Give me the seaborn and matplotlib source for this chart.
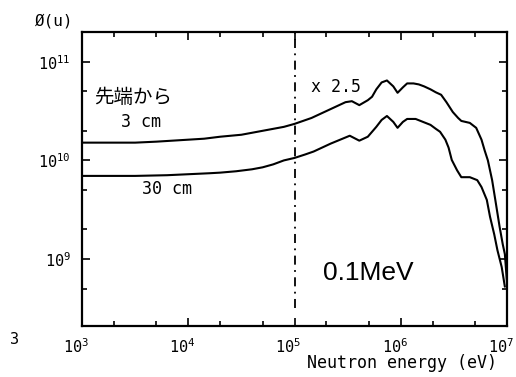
import numpy as np
import pandas as pd
import matplotlib
matplotlib.use("Agg")
import matplotlib.pyplot as plt
import matplotlib.ticker as mticker
import matplotlib.transforms as mtrans
import seaborn as sns

# ---- data (log10 values) ----
log_e_3cm = [3.00, 3.30, 3.50, 3.70, 3.85, 4.00, 4.15, 4.30, 4.40, 4.50, 4.60, 4.70,
             4.80, 4.90, 5.00, 5.08, 5.16, 5.24, 5.32, 5.40, 5.48, 5.54, 5.61, 5.69,
             5.73, 5.77, 5.82, 5.87, 5.93, 5.97, 6.02, 6.06, 6.12, 6.17, 6.22, 6.28,
             6.33, 6.38, 6.43, 6.49, 6.54, 6.57, 6.65, 6.71, 6.76, 6.79, 6.82, 6.86,
             6.89, 6.93, 6.96, 6.98, 7.00]
log_phi_3cm = [10.18, 10.18, 10.18, 10.19, 10.20, 10.21, 10.22, 10.24, 10.25, 10.26,
               10.28, 10.30, 10.32, 10.34, 10.37, 10.40, 10.43, 10.47, 10.51, 10.55,
               10.59, 10.60, 10.56, 10.61, 10.645, 10.72, 10.79, 10.81, 10.75, 10.685,
               10.74, 10.78, 10.78, 10.77, 10.75, 10.72, 10.69, 10.665, 10.59, 10.49,
               10.43, 10.40, 10.38, 10.33, 10.21, 10.10, 10.00, 9.80, 9.60, 9.33,
               9.15, 9.05, 8.76]

log_e_30cm = [3.00, 3.50, 3.80, 4.00, 4.20, 4.30, 4.45, 4.60, 4.70, 4.80, 4.90, 5.00,
              5.10, 5.18, 5.26, 5.34, 5.43, 5.52, 5.61, 5.69, 5.73, 5.77, 5.82, 5.87,
              5.93, 5.97, 6.02, 6.06, 6.14, 6.21, 6.28, 6.33, 6.37, 6.42, 6.45, 6.48,
              6.53, 6.57, 6.65, 6.72, 6.76, 6.81, 6.84, 6.88, 6.91, 6.95, 6.98]
log_phi_30cm = [9.843, 9.843, 9.85, 9.86, 9.87, 9.876, 9.89, 9.91, 9.93, 9.96, 10.00,
                10.025, 10.06, 10.09, 10.13, 10.17, 10.21, 10.25, 10.20, 10.24, 10.29,
                10.34, 10.41, 10.45, 10.39, 10.33, 10.39, 10.42, 10.42, 10.39, 10.36,
                10.32, 10.29, 10.21, 10.13, 10.005, 9.90, 9.83, 9.83, 9.80, 9.73,
                9.60, 9.43, 9.25, 9.09, 8.92, 8.72]

marker_energy = 1e5
x_limits = [1e3, 1e7]
y_limits = [2.1e8, 2.0e11]

# ---- style ----
sns.set_style("ticks")
plt.rcParams['font.family'] = ['DejaVu Sans Mono', 'Noto Sans CJK JP']
plt.rcParams['mathtext.default'] = 'regular'
plt.rcParams['text.color'] = 'black'
plt.rcParams['xtick.color'] = 'black'
plt.rcParams['ytick.color'] = 'black'
plt.rcParams['xtick.labelcolor'] = 'black'
plt.rcParams['ytick.labelcolor'] = 'black'

fig = plt.figure(figsize=(5.16, 3.77), dpi=100)
ax = fig.add_axes([82/516, 51/377, 425/516, 294/377])

df3 = pd.DataFrame({"E": 10**np.array(log_e_3cm), "phi": 10**np.array(log_phi_3cm)})
df30 = pd.DataFrame({"E": 10**np.array(log_e_30cm), "phi": 10**np.array(log_phi_30cm)})

sns.lineplot(data=df3, x="E", y="phi", ax=ax, color="black", lw=1.5,
             estimator=None, sort=False)
sns.lineplot(data=df30, x="E", y="phi", ax=ax, color="black", lw=1.5,
             estimator=None, sort=False)

ax.plot([marker_energy, marker_energy], [3.2e8, 2.0e11], color="black", lw=1.3,
        linestyle=(0, (5, 3, 1, 3)))

ax.set_xscale("log")
ax.set_yscale("log")
ax.set_xlim(*x_limits)
ax.set_ylim(*y_limits)
ax.set_xlabel("")
ax.set_ylabel("")

for a in (ax.xaxis, ax.yaxis):
    a.set_major_locator(mticker.LogLocator(base=10, numticks=20))
    a.set_minor_locator(mticker.LogLocator(base=10, subs=(2.0, 5.0), numticks=20))
    a.set_minor_formatter(mticker.NullFormatter())

ax.tick_params(which="both", direction="in", top=True, right=True, width=1.2, color="black")
ax.tick_params(which="major", length=6, labelsize=11, pad=8)
ax.tick_params(which="minor", length=3.5)
for s in ax.spines.values():
    s.set_linewidth(1.6)
    s.set_color("black")

# shift x tick labels slightly left, as in the reference
shift = mtrans.ScaledTranslation(-6/100, 0, fig.dpi_scale_trans)
for lab in ax.get_xticklabels():
    lab.set_transform(lab.get_transform() + shift)

# ---- texts ----
fig.text(35/516, 1-21/377, "Ø(u)", fontsize=11.5, va="center", ha="left")
fig.text(94/516, 1-97/377, "先端から", fontsize=14, va="center", ha="left",
         family=['Noto Sans CJK JP', 'DejaVu Sans'])
fig.text(121/516, 1-122/377, "3 cm", fontsize=12, va="center", ha="left")
fig.text(142/516, 1-189/377, "30 cm", fontsize=12, va="center", ha="left")
fig.text(311/516, 1-87/377, "x 2.5", fontsize=12, va="center", ha="left")
fig.text(323/516, 1-273/377, "0.1MeV", fontsize=19, va="center", ha="left",
         family=['Liberation Sans', 'DejaVu Sans'])
fig.text(10/516, 1-340/377, "3", fontsize=11, va="center", ha="left")
fig.text(497/516, 1-363/377, "Neutron energy (eV)", fontsize=12, va="center", ha="right")

fig.savefig("out.png", dpi=100)
